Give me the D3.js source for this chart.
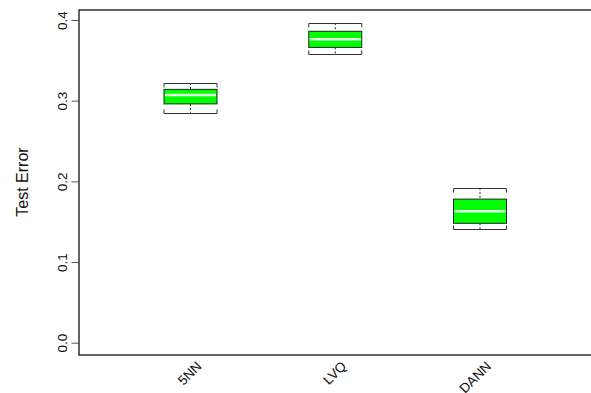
<!DOCTYPE html>
<html>
<head>
<meta charset="utf-8">
<script src="https://cdn.jsdelivr.net/npm/d3@7"></script>
<style>
  html, body { margin: 0; padding: 0; background: #fff; }
  svg { display: block; }
  text { font-family: "Liberation Sans", Arial, sans-serif; fill: #111; }
</style>
</head>
<body>
<svg id="chart" width="591" height="393"></svg>
<script>
// Data
const categories = ["5NN", "LVQ", "DANN"];
const whiskerLow  = [0.285, 0.358, 0.141];
const boxLow      = [0.296, 0.366, 0.148];
const medians     = [0.307, 0.376, 0.163];
const boxHigh     = [0.314, 0.386, 0.178];
const whiskerHigh = [0.322, 0.396, 0.192];
const yTicks = [0.0, 0.1, 0.2, 0.3, 0.4];
const yTickLabels = ["0.0", "0.1", "0.2", "0.3", "0.4"];
const yTitle = "Test Error";

const svg = d3.select("#chart");
const plot = { left: 79, top: 10, right: 592, bottom: 355 };

const y = d3.scaleLinear().domain([0, 0.4]).range([342.7, 20]);
const x = d3.scalePoint().domain(categories).range([190.5, 480]);
const boxW = 53;

const data = categories.map((c, i) => ({
  cat: c, wl: whiskerLow[i], bl: boxLow[i], md: medians[i], bh: boxHigh[i], wh: whiskerHigh[i]
}));

// Y axis
const yAxis = d3.axisLeft(y).tickValues(yTicks).tickSize(7).tickFormat((d, i) => yTickLabels[i]);
const ga = svg.append("g").attr("transform", `translate(${plot.left - 0.5},0)`).call(yAxis);
ga.select(".domain").remove();
ga.selectAll(".tick line").attr("stroke", "#555").attr("stroke-width", 1);
ga.selectAll(".tick text")
  .attr("x", 0).attr("dy", 0)
  .attr("transform", "translate(-11.5,0) rotate(-90)")
  .attr("text-anchor", "middle")
  .style("font-size", "13.5px")
  .style("font-family", "'Liberation Sans', Arial, sans-serif")
  .attr("fill", "#111");

// Plot frame
svg.append("rect")
  .attr("x", plot.left).attr("y", plot.top)
  .attr("width", plot.right - plot.left).attr("height", plot.bottom - plot.top)
  .attr("fill", "none").attr("stroke", "#111").attr("stroke-width", 1.3);

// Y title
svg.append("text")
  .attr("transform", `translate(27.5,182) rotate(-90)`)
  .attr("text-anchor", "middle")
  .style("font-size", "16px")
  .text(yTitle);

// Boxes
const g = svg.append("g").selectAll("g").data(data).join("g");

g.append("line")
  .attr("x1", d => x(d.cat)).attr("x2", d => x(d.cat))
  .attr("y1", d => y(d.wh)).attr("y2", d => y(d.bh))
  .attr("stroke", "#222").attr("stroke-dasharray", "2,2");
g.append("line")
  .attr("x1", d => x(d.cat)).attr("x2", d => x(d.cat))
  .attr("y1", d => y(d.bl)).attr("y2", d => y(d.wl))
  .attr("stroke", "#222").attr("stroke-dasharray", "2,2");

// staples
["wh", "wl"].forEach(k => {
  g.append("path")
    .attr("d", d => {
      const yy = Math.round(y(d[k])) + 0.5;
      const x0 = x(d.cat) - boxW / 2, x1 = x(d.cat) + boxW / 2;
      const s = k === "wh" ? 1 : -1;
      return `M${x0},${yy + 4 * s}V${yy}H${x1}V${yy + 4 * s}`;
    })
    .attr("fill", "none").attr("stroke", "#333").attr("stroke-width", 1);
});

g.append("rect")
  .attr("x", d => x(d.cat) - boxW / 2)
  .attr("y", d => y(d.bh))
  .attr("width", boxW)
  .attr("height", d => y(d.bl) - y(d.bh))
  .attr("fill", "#00ff00").attr("stroke", "#1a2a1a").attr("stroke-width", 1);

g.append("line")
  .attr("x1", d => x(d.cat) - boxW / 2 + 1).attr("x2", d => x(d.cat) + boxW / 2 - 1)
  .attr("y1", d => y(d.md)).attr("y2", d => y(d.md))
  .attr("stroke", "#e8ffe8").attr("stroke-width", 2.5);

// X labels
svg.append("g").selectAll("text").data(categories).join("text")
  .attr("transform", d => `translate(${x(d) + 12},367) rotate(-45)`)
  .attr("text-anchor", "end")
  .style("font-size", "13.5px")
  .text(d => d);
</script>
</body>
</html>
